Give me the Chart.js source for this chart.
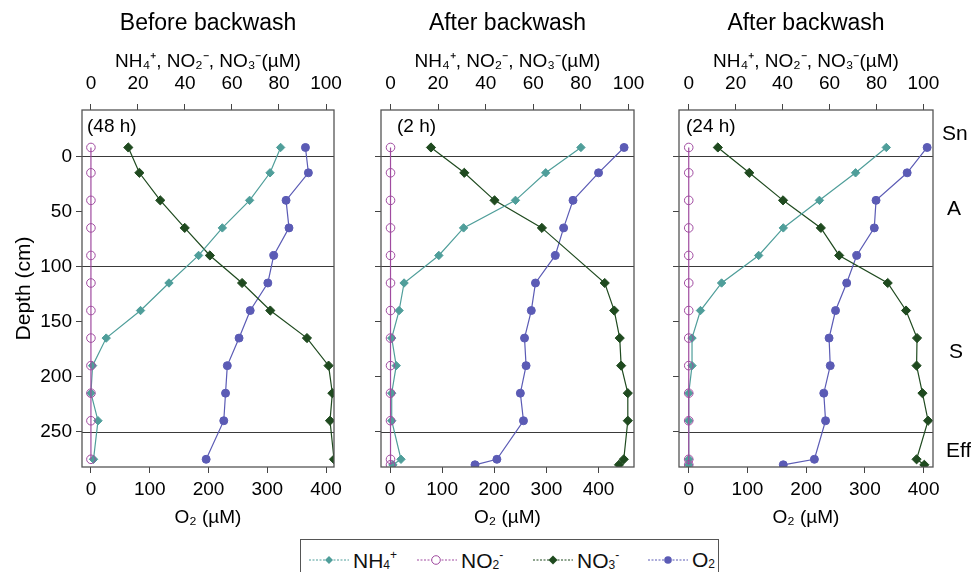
<!DOCTYPE html>
<html>
<head>
<meta charset="utf-8">
<script src="https://cdn.jsdelivr.net/npm/chart.js@4.4.1/dist/chart.umd.min.js"></script>
<style>
  body { margin: 0; background: #fff; width: 971px; height: 572px; overflow: hidden; position: relative;
         font-family: "Liberation Sans", Arial, sans-serif; }
  canvas { position: absolute; top: 0; }
  #legend { position: absolute; left: 300px; top: 539px; width: 419px; height: 44px;
            border: 1px solid #555; box-sizing: border-box; }
  #legend .item { position: absolute; top: 8px; height: 24px; display: flex; align-items: center;
                  font-size: 21px; color: #111; white-space: nowrap; }
  #legend svg { margin-right: 4px; }
  #legend sub { font-size: 12px; vertical-align: -1px; }
  #legend sup { font-size: 12px; vertical-align: 9px; }
</style>
</head>
<body>
<canvas id="before" width="350" height="535" style="left:0"></canvas>
<canvas id="after2" width="290" height="535" style="left:361px"></canvas>
<canvas id="after24" width="312" height="535" style="left:659px"></canvas>

<div id="legend">
  <div class="item" style="left:8px">
    <svg width="40" height="14"><line x1="0" y1="7" x2="40" y2="7" stroke="#4f9e9a" stroke-dasharray="2 1.5"/><path d="M20 3 L24 7 L20 11 L16 7Z" fill="#4f9e9a"/></svg>
    <span>NH<sub>4</sub><sup>+</sup></span>
  </div>
  <div class="item" style="left:116px">
    <svg width="40" height="14"><line x1="0" y1="7" x2="40" y2="7" stroke="#a04ba0" stroke-dasharray="2 1.5"/><circle cx="19" cy="7" r="4.3" fill="#fff" stroke="#a04ba0"/></svg>
    <span>NO<sub>2</sub><sup>-</sup></span>
  </div>
  <div class="item" style="left:232px">
    <svg width="40" height="14"><line x1="0" y1="7" x2="40" y2="7" stroke="#1f4a1f" stroke-dasharray="2 1.5"/><path d="M20 2.5 L24.5 7 L20 11.5 L15.5 7Z" fill="#1f4a1f"/></svg>
    <span>NO<sub>3</sub><sup>-</sup></span>
  </div>
  <div class="item" style="left:347px">
    <svg width="40" height="14"><line x1="0" y1="7" x2="40" y2="7" stroke="#5b5bb5" stroke-dasharray="2 1.5"/><circle cx="20" cy="7" r="3.8" fill="#5b5bb5"/></svg>
    <span>O<sub>2</sub></span>
  </div>
</div>

<script>
// sampling depths (cm), supernatant above 0
const depths = [-8, 15, 40, 65, 90, 115, 140, 165, 190, 215, 240, 275];
const depthsEff = [-8, 15, 40, 65, 90, 115, 140, 165, 190, 215, 240, 275, 280];

// before backwash (48 h)
const nh4Before = [80.7, 76.2, 67.5, 55.9, 45.8, 33.2, 21.1, 6.5, 0.7, 0, 3, 1.1];
const no2Before = [0, 0, 0, 0, 0, 0, 0, 0, 0, 0, 0, 0];
const no3Before = [15.9, 20.6, 29.5, 39.9, 50.6, 64.3, 76.3, 91.9, 101.1, 102.7, 101.7, 103.4];
const o2Before = [365, 370, 332, 337, 311, 301, 271, 252, 232, 229, 226, 196];

// after backwash (2 h)
const nh4After2 = [80, 65.2, 52.5, 30.7, 20.3, 5.7, 3.6, 0.5, 2.4, 0.5, 0.5, 4.4, 1];
const no2After2 = [0, 0, 0, 0, 0, 0, 0, 0, 0, 0, 0, 0, 0];
const no3After2 = [17, 31, 43.7, 63.6, null, 90, 94, 96.3, 96.9, 99.7, 99.7, 98, 96];
const o2After2 = [449, 400, 351, 333, 317, 279, 271, 258, 261, 250, 256, 205, 163];

// after backwash (24 h)
const nh4After24 = [84.2, 71.1, 55.7, 40.3, 29.8, 14, 5, 1.4, 1.4, 0, 0, 0, 0];
const no2After24 = [0, 0, 0, 0, 0, 0, 0, 0, 0, 0, 0, 0, 0];
const no3After24 = [12.4, 25.8, 40.2, 56.3, 64.1, 84.8, 92.6, 97.3, 97.1, 99.6, 102, 97.1, 100.4];
const o2After24 = [406, 372, 319, 316, 286, 269, 250, 239, 241, 230, 233, 214, 161];

const nTicks = [0, 20, 40, 60, 80, 100];
const o2Ticks = [0, 100, 200, 300, 400];
const depthTicks = [0, 50, 100, 150, 200, 250];
const layerBounds = [0, 100, 250];
const zoneNames = ['Sn', 'A', 'S', 'Eff'];
const zoneDepths = [-20, 48, 178, 268];

const colNH4 = '#4f9e9a', colNO2 = '#a04ba0', colNO3 = '#1f4a1f', colO2 = '#5b5bb5';
const FONT = '"Liberation Sans", Arial, sans-serif';

const decor = {
  id: 'decor',
  beforeDatasetsDraw(chart) {
    const { ctx, chartArea: a, scales: { y } } = chart;
    ctx.save();
    ctx.strokeStyle = '#3a3a3a';
    ctx.lineWidth = 1;
    layerBounds.forEach(d => {
      const py = Math.round(y.getPixelForValue(d)) + 0.5;
      ctx.beginPath();
      ctx.moveTo(a.left, py);
      ctx.lineTo(a.right, py);
      ctx.stroke();
    });
    ctx.restore();
  },
  afterDraw(chart, args, o) {
    const { ctx, chartArea: a, scales: { y } } = chart;
    ctx.save();
    ctx.strokeStyle = '#555';
    ctx.lineWidth = 1.3;
    ctx.strokeRect(a.left, a.top, a.right - a.left, a.bottom - a.top);
    ctx.fillStyle = '#000';
    ctx.textBaseline = 'middle';
    ctx.textAlign = 'center';
    ctx.font = '23px ' + FONT;
    ctx.fillText(o.title, (a.left + a.right) / 2, 24);
    ctx.textAlign = 'left';
    ctx.font = '19px ' + FONT;
    ctx.fillText(o.tag, a.left + o.tagDx, a.top + 17);
    if (o.zones) {
      ctx.font = '21px ' + FONT;
      zoneNames.forEach((z, i) => {
        ctx.fillText(z, a.right + o.zoneDx[i], y.getPixelForValue(zoneDepths[i]));
      });
    }
    ctx.restore();
  }
};

function pts(vals, ds) {
  return ds.map((d, i) => ({ x: vals[i], y: d })).filter(q => q.x !== null);
}

function makePanel(id, p) {
  const tickSet = arr => s => { s.ticks = arr.map(v => ({ value: v })); };
  const grid = { drawOnChartArea: false, drawTicks: true, tickLength: 6, color: '#444', lineWidth: 1 };
  new Chart(document.getElementById(id), {
    type: 'scatter',
    data: {
      datasets: [
        { label: 'NO₂⁻', data: pts(p.no2, p.depths), xAxisID: 'xN', showLine: true,
          borderColor: colNO2, borderWidth: 1.2, pointStyle: 'circle', pointRadius: 4.3,
          pointBorderColor: colNO2, pointBackgroundColor: 'rgba(255,255,255,0)', pointBorderWidth: 1 },
        { label: 'NH₄⁺', data: pts(p.nh4, p.depths), xAxisID: 'xN', showLine: true,
          borderColor: colNH4, borderWidth: 1.2, pointStyle: 'rectRot', pointRadius: 4.2,
          pointBorderColor: colNH4, pointBackgroundColor: colNH4, pointBorderWidth: 1 },
        { label: 'NO₃⁻', data: pts(p.no3, p.depths), xAxisID: 'xN', showLine: true,
          borderColor: colNO3, borderWidth: 1.2, pointStyle: 'rectRot', pointRadius: 4.6,
          pointBorderColor: colNO3, pointBackgroundColor: colNO3, pointBorderWidth: 1 },
        { label: 'O₂', data: pts(p.o2, p.depths), xAxisID: 'xO', showLine: true,
          borderColor: colO2, borderWidth: 1.2, pointStyle: 'circle', pointRadius: 4,
          pointBorderColor: colO2, pointBackgroundColor: colO2, pointBorderWidth: 1 }
      ]
    },
    options: {
      responsive: false,
      animation: false,
      events: [],
      layout: { padding: { left: 0, right: p.padRight, top: 0, bottom: 0 }, autoPadding: false },
      plugins: {
        legend: { display: false },
        tooltip: { enabled: false },
        decor: { title: p.title, tag: p.tag, tagDx: p.tagDx, zones: p.zones, zoneDx: [9, 14, 16, 13] }
      },
      scales: {
        xN: {
          type: 'linear', axis: 'x', position: 'top', min: p.nMin, max: p.nMax,
          afterBuildTicks: tickSet(nTicks),
          afterFit: s => { s.height = 110; s.paddingLeft = 0; s.paddingRight = 0; },
          grid: grid, border: { display: false },
          ticks: { font: { size: 19, family: FONT }, color: '#000', padding: 9 },
          title: { display: true, text: 'NH₄⁺, NO₂⁻, NO₃⁻(µM)', color: '#000',
                   font: { size: 19, family: FONT }, padding: { top: 50, bottom: 0 } }
        },
        xO: {
          type: 'linear', axis: 'x', position: 'bottom', min: p.oMin, max: p.oMax,
          afterBuildTicks: tickSet(o2Ticks),
          afterFit: s => { s.height = 68; s.paddingLeft = 0; s.paddingRight = 0; },
          grid: grid, border: { display: false },
          ticks: { font: { size: 19, family: FONT }, color: '#000', padding: 5 },
          title: { display: true, text: 'O₂ (µM)', color: '#000',
                   font: { size: 19, family: FONT }, padding: { top: 6, bottom: 6 } }
        },
        y: {
          type: 'linear', position: 'left', reverse: true, min: -42, max: 282,
          afterBuildTicks: tickSet(depthTicks),
          afterFit: s => { s.width = p.yWidth; s.paddingTop = 0; s.paddingBottom = 0; },
          grid: grid, border: { display: false },
          ticks: { font: { size: 19, family: FONT }, color: '#000', padding: 4,
                   callback: v => p.yLabels ? String(v) : '' },
          title: { display: p.yLabels, text: 'Depth (cm)', color: '#000',
                   font: { size: 21, family: FONT }, padding: { top: 12, bottom: 0 } }
        }
      }
    },
    plugins: [decor]
  });
}

makePanel('before', {
  title: 'Before backwash', tag: '(48 h)', tagDx: 5, zones: false,
  depths: depths, nh4: nh4Before, no2: no2Before, no3: no3Before, o2: o2Before,
  nMin: -3.8, nMax: 103.4, oMin: -15.3, oMax: 413.6,
  yWidth: 82, yLabels: true, padRight: 16
});
makePanel('after2', {
  title: 'After backwash', tag: '(2 h)', tagDx: 16, zones: false,
  depths: depthsEff, nh4: nh4After2, no2: no2After2, no3: no3After2, o2: o2After2,
  nMin: -4, nMax: 102.3, oMin: -17.3, oMax: 468,
  yWidth: 20, yLabels: false, padRight: 17
});
makePanel('after24', {
  title: 'After backwash', tag: '(24 h)', tagDx: 7, zones: true,
  depths: depthsEff, nh4: nh4After24, no2: no2After24, no3: no3After24, o2: o2After24,
  nMin: -4.15, nMax: 104.1, oMin: -16.6, oMax: 416,
  yWidth: 20, yLabels: false, padRight: 38
});
</script>
</body>
</html>
